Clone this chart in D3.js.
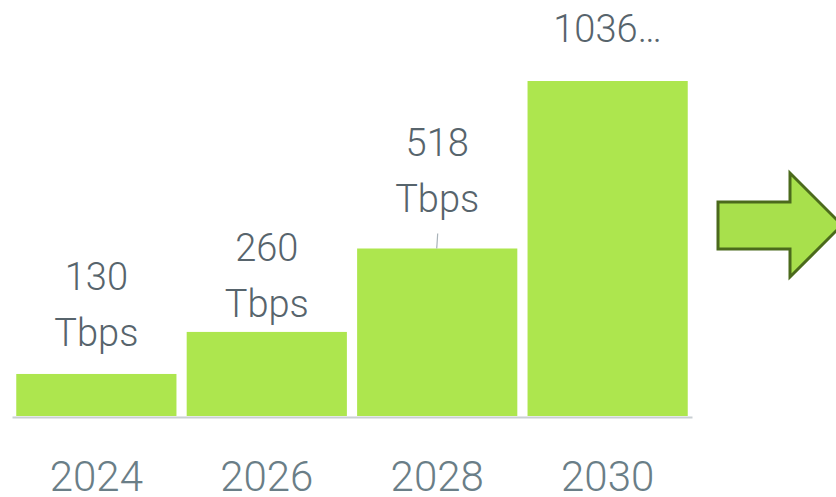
<!DOCTYPE html>
<html>
<head>
<meta charset="utf-8">
<script src="https://cdn.jsdelivr.net/npm/d3@7"></script>
<style>
  html, body { margin: 0; padding: 0; background: #fff; }
  svg { display: block; font-family: Roboto, "Noto Sans", sans-serif; font-weight: 300; }
</style>
</head>
<body>
<div id="chart"></div>
<script>
// data
const years = ["2024", "2026", "2028", "2030"];
const values = [130, 260, 518, 1036];
const labelLines = [["130", "Tbps"], ["260", "Tbps"], ["518", "Tbps"], ["1036…"]];
// how far above the bar top the last label line sits (px)
const labelLift = [28, 15, 37, 39];

const W = 836, H = 497;

const svg = d3.select("#chart").append("svg")
    .attr("width", W)
    .attr("height", H);

// scales
const x = d3.scaleBand().domain(years).range([12, 692])
    .paddingInner(0.06).paddingOuter(0.025);
const y = d3.scaleLinear().domain([0, 1036]).range([416, 81]);

// bars
svg.selectAll("rect.bar")
    .data(values)
    .enter().append("rect")
    .attr("class", "bar")
    .attr("x", (d, i) => x(years[i]))
    .attr("y", d => y(d))
    .attr("width", x.bandwidth())
    .attr("height", d => y(0) - y(d))
    .attr("fill", "#ade64e");

// x axis
const xAxis = svg.append("g")
    .attr("transform", "translate(0,417)")
    .call(d3.axisBottom(x).tickSize(0).tickSizeOuter(0));
xAxis.select(".domain").attr("stroke", "#c9cfd4").attr("stroke-width", 2);
xAxis.selectAll("text")
    .attr("y", 74)
    .attr("dy", null)
    .attr("fill", "#6a7e87")
    .style("font-size", "42px")
    .style("font-weight", 300)
    .style("font-family", "Roboto, sans-serif");

// leader line for the 518 label
svg.append("line")
    .attr("x1", x("2028") + x.bandwidth() / 2 + 0.5)
    .attr("x2", x("2028") + x.bandwidth() / 2 - 0.5)
    .attr("y1", y(518) - 15)
    .attr("y2", y(518))
    .attr("stroke", "#a9b3b9")
    .attr("stroke-width", 1.2);

// data labels
const lineGap = 56;
values.forEach((v, i) => {
    const lines = labelLines[i];
    const cx = x(years[i]) + x.bandwidth() / 2;
    const base = y(v) - labelLift[i];
    const t = svg.append("text")
        .attr("text-anchor", "middle")
        .attr("fill", "#57646c")
        .style("font-size", "38px");
    lines.forEach((s, j) => {
        t.append("tspan")
            .attr("x", cx)
            .attr("y", base - (lines.length - 1 - j) * lineGap)
            .text(s);
    });
});

// arrow on the right
const arrow = [[718, 202], [790, 202], [790, 173], [842, 225], [790, 277], [790, 249], [718, 249]];
svg.append("path")
    .attr("d", d3.line()(arrow) + "Z")
    .attr("fill", "#a8e04c")
    .attr("stroke", "#4b6a1c")
    .attr("stroke-width", 3)
    .attr("stroke-linejoin", "miter");
</script>
</body>
</html>
